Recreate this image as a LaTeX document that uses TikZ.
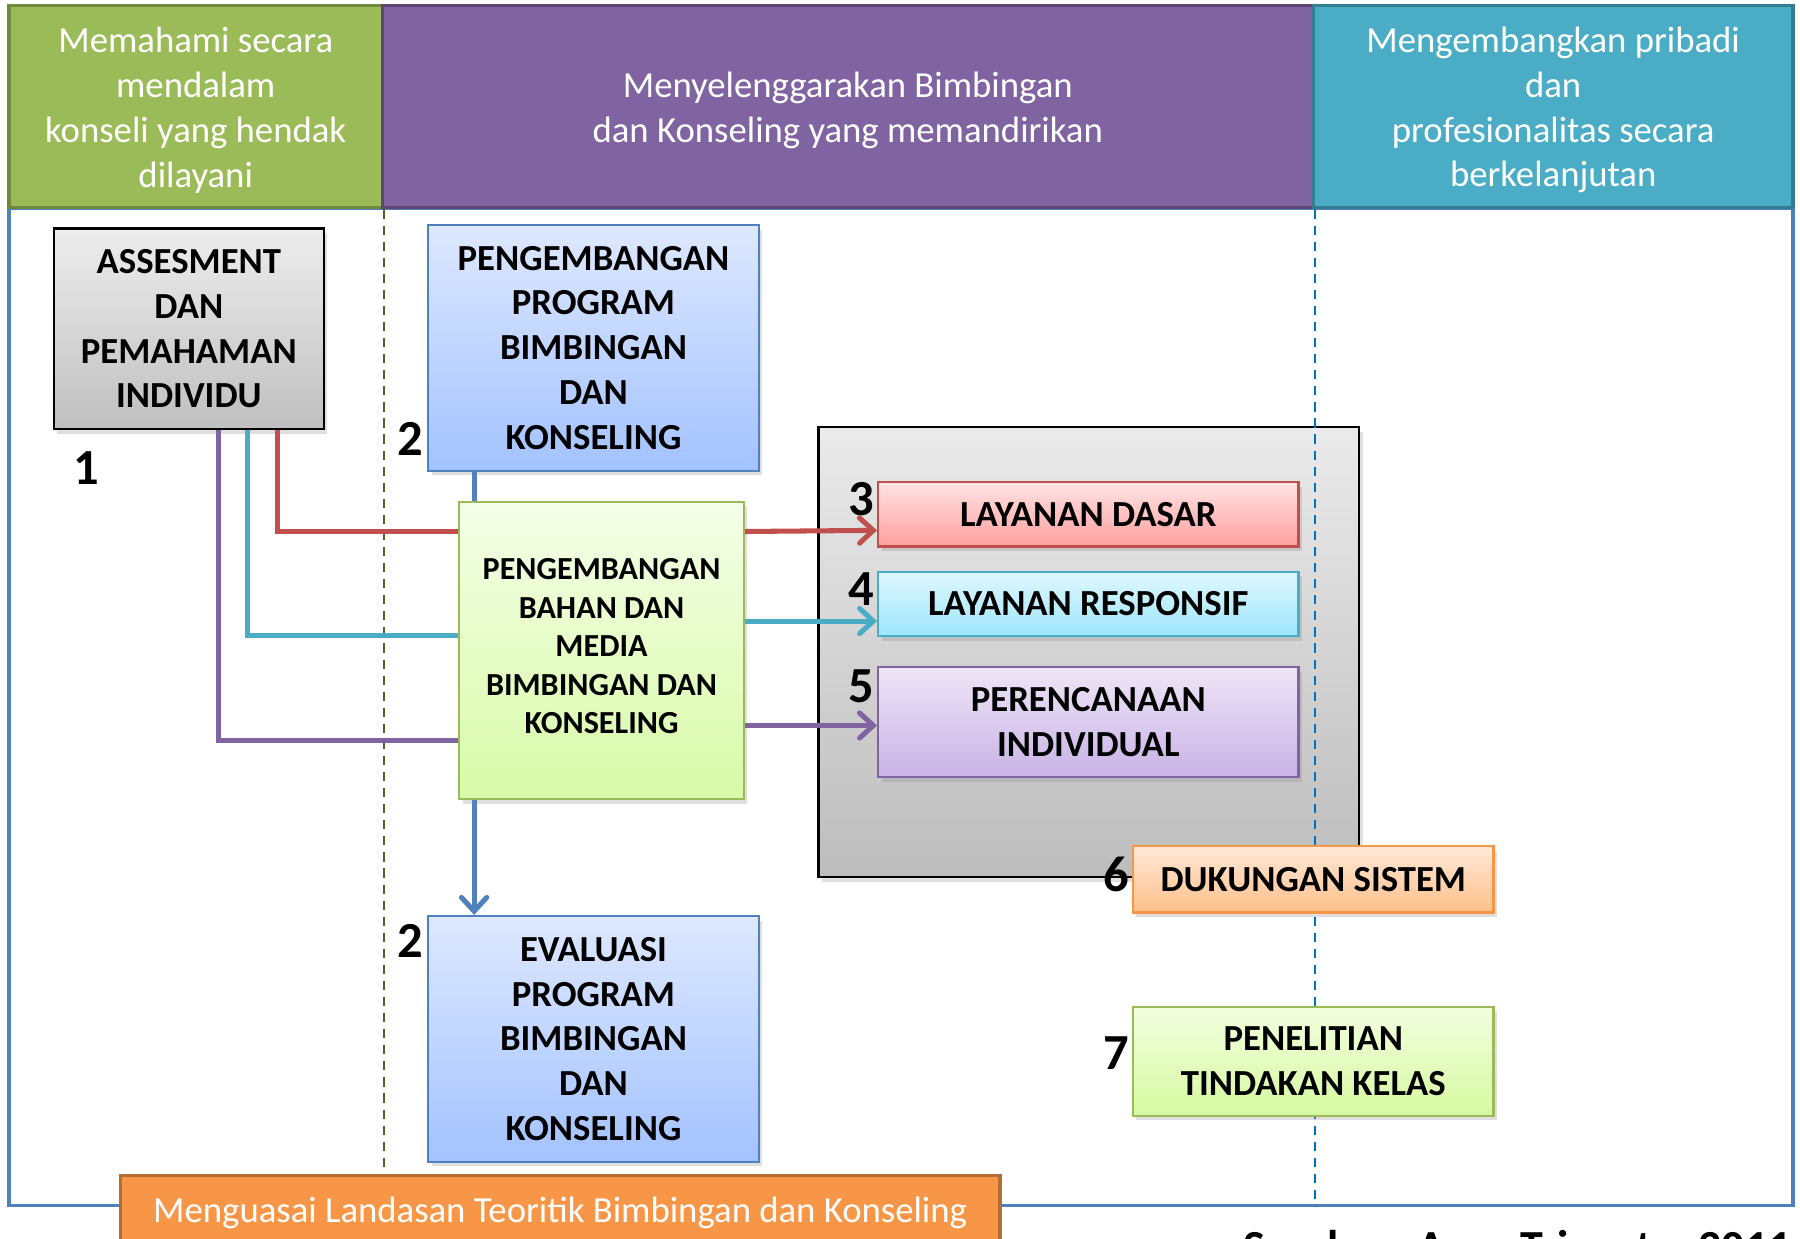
\documentclass[tikz,border=0pt]{standalone}
\usepackage{fontspec}
\setmainfont{Carlito}
\usetikzlibrary{arrows.meta,shadows,calc}
\definecolor{hGreen}{HTML}{9BBB59}
\definecolor{hGreenD}{HTML}{71893F}
\definecolor{hPurple}{HTML}{8064A2}
\definecolor{hPurpleD}{HTML}{5C4776}
\definecolor{hBlue}{HTML}{4BACC6}
\definecolor{hBlueD}{HTML}{357D91}
\definecolor{frameBlue}{HTML}{4F81BD}
\definecolor{cRed}{HTML}{C0504D}
\definecolor{cCyan}{HTML}{4BACC6}
\definecolor{cPurple}{HTML}{8064A2}
\definecolor{dashG}{HTML}{4F6228}
\definecolor{dashB}{HTML}{0070C0}
\definecolor{orangeF}{HTML}{F79646}
\definecolor{orangeD}{HTML}{B66D31}
\definecolor{blueT}{RGB}{222,232,255}
\definecolor{blueB}{RGB}{163,194,255}
\definecolor{greenT}{RGB}{245,255,232}
\definecolor{greenB}{RGB}{216,250,168}
\begin{document}
\begin{tikzpicture}[x=0.5pt,y=-0.5pt,
  hdr/.style={draw, line width=1.5pt, inner sep=0pt},
  hdrtxt/.style={text=white, align=center, inner sep=0pt,
    font=\fontsize{16}{19.5}\selectfont},
  bx/.style={draw, line width=1pt, align=center, inner sep=0pt,
    font=\bfseries\fontsize{16}{19.5}\selectfont,
    drop shadow={opacity=0.25, shadow xshift=1.5pt, shadow yshift=-2pt}},
  sz/.style 2 args={minimum width=#1pt, minimum height=#2pt},
  num/.style={font=\bfseries\fontsize{22}{26}\selectfont, inner sep=0pt},
  conn/.style={line width=2.2pt},
  arr/.style={-{Straight Barb[length=6pt,width=11pt,line cap=round]}}
]
\useasboundingbox (0,0) rectangle (1568,1079);
\clip (0,0) rectangle (1568,1079);

% frame
\node[draw=frameBlue, line width=1.6pt, inner sep=0pt, sz={777}{434.5}] (frame) at (785,615.5) {};

% headers
\node[hdr, fill=hGreen, draw=hGreenD, sz={162.5}{88}] (hg) at (170.5,93) {};
\node[hdrtxt] (hgT) at (170.5,96)
  {Memahami secara\\mendalam\\konseli yang hendak\\dilayani};
\node[hdr, fill=hPurple, draw=hPurpleD, sz={405.5}{88}] (hp) at (738.5,93) {};
\node[hdrtxt] (hpT) at (738.5,96)
  {Menyelenggarakan Bimbingan\\dan Konseling yang memandirikan};
\node[hdr, fill=hBlue, draw=hBlueD, sz={209}{88}] (hb) at (1353,93) {};
\node[hdrtxt] (hbT) at (1353,96)
  {Mengembangkan pribadi\\dan\\profesionalitas secara\\berkelanjutan};

% gray container
\node[bx, draw=black, top color=black!8, bottom color=black!26, sz={235.5}{196}] (gray) at (948.5,568) {};

\coordinate (otl) at (105,1024);

% dashed lines
\draw[dashG, line width=0.8pt, dash pattern=on 4pt off 3pt] (hg.south east) -- (hg.south east |- otl);
\draw[dashB, line width=0.8pt, dash pattern=on 4pt off 3pt] (hp.south east) -- (hp.south east |- frame.south);

% boxes
\node[bx, draw=black, top color=black!7, bottom color=black!25, sz={117.5}{87.5}] (ass) at (164.5,286.5)
  {ASSESMENT\\DAN\\PEMAHAMAN\\INDIVIDU};
\node[bx, draw=frameBlue, top color=blueT, bottom color=blueB, sz={144}{107}] (prog) at (517,303)
  {PENGEMBANGAN\\PROGRAM\\BIMBINGAN\\DAN\\KONSELING};
\node[bx, draw=hGreen, top color=greenT, bottom color=greenB, sz={124}{129.5}] (media) at (524,566.5) {};
\node[font=\bfseries\fontsize{14}{16.75}\selectfont, align=center, inner sep=0pt] (mediaT) at (524,563)
  {PENGEMBANGAN\\BAHAN DAN\\MEDIA\\BIMBINGAN DAN\\KONSELING};
\node[bx, draw=cRed, top color={rgb,255:red,255;green,228;blue,228}, bottom color={rgb,255:red,255;green,158;blue,158}, sz={183}{28}] (dasar) at (948,448)
  {LAYANAN DASAR};
\node[bx, draw=cCyan, top color={rgb,255:red,224;green,248;blue,255}, bottom color={rgb,255:red,157;green,230;blue,250}, sz={183}{28}] (resp) at (948,526)
  {LAYANAN RESPONSIF};
\node[bx, draw=cPurple, top color={rgb,255:red,238;green,230;blue,247}, bottom color={rgb,255:red,200;green,178;blue,230}, sz={183}{48}] (renc) at (948,629)
  {PERENCANAAN\\INDIVIDUAL};
\node[num] at (972,762) (n6) {6};
\node[bx, draw=orangeF, top color={rgb,255:red,255;green,232;blue,216}, bottom color={rgb,255:red,255;green,192;blue,138}, sz={157}{29}] (duk) at (1144,766)
  {DUKUNGAN SISTEM};
\node[bx, draw=hGreen, top color={rgb,255:red,243;green,255;blue,224}, bottom color={rgb,255:red,214;green,249;blue,160}, sz={157}{47.5}] (pen) at (1144,924.5)
  {PENELITIAN\\TINDAKAN KELAS};
\node[bx, draw=frameBlue, top color=blueT, bottom color=blueB, sz={144}{107}] (eval) at (517,905)
  {EVALUASI\\PROGRAM\\BIMBINGAN\\DAN\\KONSELING};

% numbers
\node[num] at (75,408) (n1) {1};
\node[num] at (357,382) (n2a) {2};
\node[num] at (357,820) (n2b) {2};
\node[num] at (750,435) (n3) {3};
\node[num] at (750,513) (n4) {4};
\node[num] at (750,598) (n5) {5};
\node[num] at (972,917) (n7) {7};

% connectors
\draw[conn, cRed] (ass.south -| 242,0) |- (media.west |- 0,463);
\draw[conn, cRed, arr] (media.east |- 0,463) -- (dasar.west |- 0,462);
\draw[conn, cCyan] (ass.south -| 216,0) |- (media.west |- 0,554);
\draw[conn, cCyan, arr] (media.east |- 0,541) -- (resp.west |- 0,541);
\draw[conn, cPurple] (ass.south -| 190,0) |- (media.west |- 0,645);
\draw[conn, cPurple, arr] (media.east |- 0,632) -- (renc.west |- 0,632);
\draw[conn, frameBlue] (prog.south -| 413,0) -- (media.north -| 413,0);
\draw[conn, frameBlue, arr] (media.south -| 413,0) -- (eval.north -| 413,0);

% bottom orange
\node[draw=orangeD, fill=orangeF, line width=1.5pt, inner sep=0pt, sz={383}{30}] (orng) at (488,1054) {};
\node[hdrtxt] (orngT) at (488,1057)
  {Menguasai Landasan Teoritik Bimbingan dan Konseling};

% source
\node[anchor=base west, inner sep=0pt, font=\bfseries\fontsize{20}{24}\selectfont] (src) at (1083,1100)
  {Sumber: Agus Triyanto, 2011};
\end{tikzpicture}
\end{document}
